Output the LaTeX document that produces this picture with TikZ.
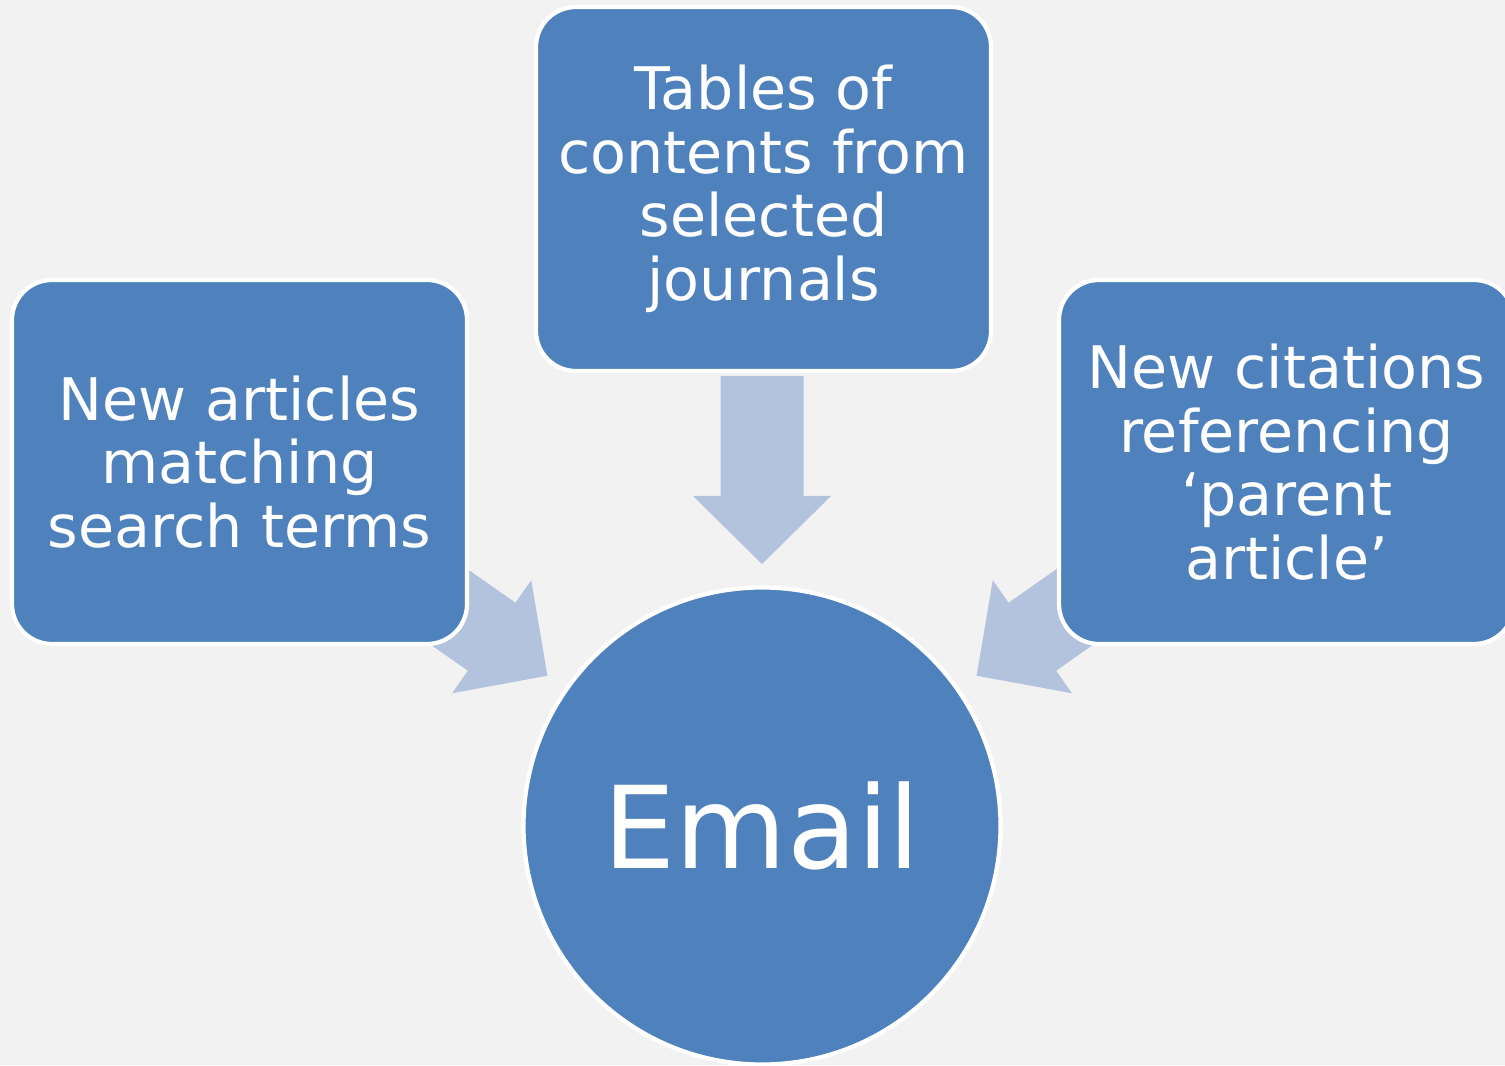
\documentclass[tikz,border=0pt]{standalone}
\usepackage{fontspec}
\setmainfont{DejaVu Sans}
\definecolor{boxblue}{HTML}{4F81BD}
\definecolor{flowblue}{HTML}{B3C3DE}
\definecolor{pagegray}{HTML}{F2F2F2}
\begin{document}
\begin{tikzpicture}[box/.style={rectangle, rounded corners=0.4cm, fill=boxblue, draw=white, line width=1.2pt, minimum width=4.55cm, minimum height=3.64cm, inner sep=0pt, align=center, text=white, font=\fontsize{16.7}{18.1}\selectfont},
    hub/.style={circle, fill=boxblue, draw=white, line width=1.2pt, minimum size=4.77cm, inner sep=0pt, text=white, font=\fontsize{32.5}{40}\selectfont},
    flow/.style={fill=flowblue}]
    \useasboundingbox (0,0) rectangle (15.05,10.65);
    \clip (0,0) rectangle (15.05,10.65);
    \fill[pagegray] (0,0) rectangle (15.05,10.65);
    \node[hub] (email) at (7.62,2.39) {Email};
    % block arrows pointing at the circle
    \foreach \a in {145,90,35} {
      \begin{scope}[shift={(email.center)}, rotate=\a]
        \fill[flow] (2.62,0) -- (3.30,0.69) -- (3.30,0.415) -- (4.50,0.415) -- (4.50,-0.415) -- (3.30,-0.415) -- (3.30,-0.69) -- cycle;
      \end{scope}
    }
    \node[box] (toc) at (7.635,8.76) {Tables of\\contents from\\selected\\journals};
    \node[box] (search) at (2.395,6.03) {New articles\\matching\\search terms};
    \node[box] (cites) at (12.865,6.03) {New citations\\referencing\\‘parent\\article’};
\end{tikzpicture}
\end{document}
